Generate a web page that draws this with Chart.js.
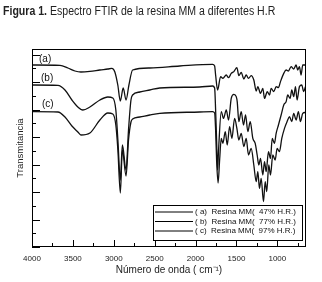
<!DOCTYPE html>
<html>
<head>
<meta charset="utf-8">
<script src="https://cdn.jsdelivr.net/npm/chart.js@4.4.1/dist/chart.umd.min.js"></script>
<style>
  body { margin: 0; background: #fff; }
  #wrap { position: relative; width: 322px; height: 282px; }
  #title {
    position: absolute; left: 3px; top: 4px; white-space: nowrap;
    font: 12px 'Liberation Sans', Arial, sans-serif; color: #222;
    transform: scaleX(0.88); transform-origin: left top;
  }
</style>
</head>
<body>
<div id="wrap">
  <div id="title"><b>Figura 1.</b> Espectro FTIR de la resina MM a diferentes H.R</div>
  <canvas id="ftir"></canvas>
</div>
<script>
// [wavenumber cm-1, transmittance a.u.]
const specA = [[4000,91],[3658,90.8],[3561,89.5],[3475,88],[3402,87.5],[3292,87.8],[3170,88.5],[3073,89],[3024,89.3],[2987,87.5],[2951,81],[2920,73],[2885,79.5],[2850,73.5],[2815,81],[2770,88.5],[2560,89.5],[2194,90.5],[1792,91.3],[1767,90.5],[1755,86],[1731,78.5],[1694,85.2],[1666,84.3],[1625,86],[1597,84.7],[1564,86.8],[1532,87.7],[1495,89.7],[1471,85.7],[1442,87.3],[1410,84],[1381,86],[1353,84.3],[1320,85.7],[1288,83.5],[1259,78],[1239,80.2],[1206,76.8],[1178,79.3],[1157,74.3],[1124,77.7],[1096,76],[1076,79.3],[1044,77.7],[1015,80.2],[987,79.7],[962,82.7],[922,86.8],[893,88.5],[865,88],[832,90.2],[800,89],[771,91],[751,88.5],[730,90.2],[710,86],[690,91],[657,91]];
const specB = [[4000,81],[3683,80.8],[3597,78.5],[3512,73.5],[3439,70],[3378,68.5],[3292,70],[3170,73.5],[3073,75],[3012,74.5],[2975,68.5],[2950,53.5],[2920,33.5],[2895,51],[2850,38.5],[2820,58.5],[2790,73.5],[2770,76],[2682,77.5],[2560,78.5],[2438,79.5],[1950,80],[1792,80.5],[1767,79.5],[1755,68.5],[1743,53.5],[1731,38.5],[1719,48.5],[1686,67.7],[1658,64.3],[1625,68.5],[1597,63.5],[1564,74.3],[1532,76.3],[1503,75.2],[1491,72.7],[1471,62.7],[1442,67.7],[1414,61],[1389,66],[1361,57.7],[1332,62.7],[1300,54.3],[1271,51.8],[1247,46],[1227,41],[1206,44.3],[1178,36],[1157,42.7],[1137,37.7],[1109,47.7],[1084,44.3],[1063,54.3],[1036,51.8],[1015,56.8],[987,61],[954,66],[922,71],[893,72.7],[873,76],[844,74.3],[824,78.5],[800,75.2],[779,80.2],[759,73.5],[730,80.2],[702,81],[678,77.7],[657,80.2]];
const specC = [[4000,67.7],[3683,67.5],[3597,65],[3512,60.5],[3439,57.5],[3402,56],[3292,57],[3170,63.5],[3073,67],[3012,66.5],[2975,61],[2950,48.5],[2920,27],[2895,48.5],[2850,35.5],[2820,53.5],[2790,62.5],[2770,64],[2682,65],[2560,66],[2438,66.8],[1950,67.5],[1792,67.7],[1767,67],[1755,58.5],[1743,43.5],[1725,32],[1706,43.5],[1686,54.3],[1666,51.8],[1637,57.7],[1613,51],[1584,60.2],[1556,54.3],[1523,64.3],[1495,59.3],[1471,53.5],[1442,56.8],[1410,50.2],[1381,54.3],[1353,46],[1320,49.3],[1288,41],[1259,32.7],[1239,37.7],[1219,29.3],[1198,34.3],[1170,22.7],[1149,32.7],[1130,27.7],[1105,41],[1084,36],[1056,46],[1027,43.5],[1003,49.3],[975,47.7],[946,54.3],[913,59.3],[881,62.7],[852,65.2],[824,62.7],[800,66.8],[771,63.5],[743,67.7],[718,62.7],[690,66.8],[657,67.3]];

const names = ["( a)  Resina MM(  47% H.R.)", "( b)  Resina MM(  77% H.R.)", "( c)  Resina MM(  97% H.R.)"];
const tags = ["(a)", "(b)", "(c)"];
const xTickLabels = [4000, 3500, 3000, 2500, 2000, 1500, 1000];
const xMin = 650, xMax = 4000;
const yMin = 0, yMax = 99, yStep = 6.875; // minor y tick spacing

const FONT = "'Liberation Sans', Arial, sans-serif";

// frame, inward ticks, curve tags and the boxed legend
const decor = {
  id: "decor",
  afterDraw(chart) {
    const { ctx, chartArea: a, scales: { x, y } } = chart;
    ctx.save();
    ctx.strokeStyle = "#000";
    ctx.lineWidth = 1;
    ctx.strokeRect(a.left + 0.5, a.top + 0.5, a.right - a.left - 1, a.bottom - a.top - 1);

    ctx.beginPath();
    for (let w = xMax; w > xMin; w -= 250) {
      const px = Math.round(x.getPixelForValue(w)) + 0.5;
      const len = w % 500 ? 4 : 7;
      ctx.moveTo(px, a.bottom);
      ctx.lineTo(px, a.bottom - len);
    }
    let i = 0;
    for (let v = yMin; v < yMax; v += yStep, i++) {
      const py = Math.round(y.getPixelForValue(v)) + 0.5;
      const len = i % 2 ? 4 : 8;
      ctx.moveTo(a.left, py);
      ctx.lineTo(a.left + len, py);
    }
    ctx.stroke();

    // (a) (b) (c) next to the curves
    ctx.fillStyle = "#111";
    ctx.font = "10px " + FONT;
    ctx.textBaseline = "middle";
    const tagPos = [[7, 10], [9, 29], [10, 55]];
    tags.forEach((t, k) => ctx.fillText(t, a.left + tagPos[k][0], a.top + tagPos[k][1]));

    // legend box
    const lx = a.left + 121, ly = a.top + 156, lw = 149, lh = 35;
    ctx.fillStyle = "#fff";
    ctx.fillRect(lx, ly, lw, lh);
    ctx.strokeRect(lx + 0.5, ly + 0.5, lw, lh);
    ctx.font = "8px " + FONT;
    ctx.fillStyle = "#111";
    names.forEach((n, k) => {
      const ry = ly + 7 + k * 9.5;
      ctx.beginPath();
      ctx.moveTo(lx + 2, ry);
      ctx.lineTo(lx + 40, ry);
      ctx.stroke();
      ctx.fillText(n, lx + 42, ry);
    });
    ctx.restore();
  }
};

const toPts = s => s.map(p => ({ x: p[0], y: p[1] }));

new Chart(document.getElementById("ftir"), {
  type: "line",
  data: {
    datasets: [specA, specB, specC].map((s, k) => ({
      label: names[k],
      data: toPts(s),
      borderColor: "#111",
      borderWidth: 1.3,
      pointRadius: 0,
      cubicInterpolationMode: "monotone",
      fill: false
    }))
  },
  options: {
    responsive: true,
    maintainAspectRatio: false,
    animation: false,
    layout: { padding: { left: 0, top: 49, right: 16, bottom: 0 } },
    plugins: { legend: { display: false }, tooltip: { enabled: false } },
    scales: {
      x: {
        type: "linear",
        reverse: true,
        min: xMin,
        max: xMax,
        grid: { display: false, drawTicks: false, tickLength: 0 },
        border: { display: false },
        afterBuildTicks: s => { s.ticks = xTickLabels.map(v => ({ value: v })); },
        ticks: {
          autoSkip: false,
          maxRotation: 0,
          padding: 7,
          color: "#222",
          font: { family: FONT, size: 8 },
          callback: v => String(v)
        },
        title: {
          display: true,
          text: "Número de onda ( cm⁻¹)",
          color: "#222",
          font: { family: FONT, size: 10 },
          padding: { top: 0, bottom: 6 }
        },
        afterFit: s => { s.height = 35; }
      },
      y: {
        min: yMin,
        max: yMax,
        grid: { display: false },
        border: { display: false },
        ticks: { display: false },
        title: {
          display: true,
          text: "Transmitancia",
          color: "#222",
          font: { family: FONT, size: 9.5 },
          padding: { top: 15, bottom: 0 }
        },
        afterFit: s => { s.width = 32; }
      }
    }
  },
  plugins: [decor]
});
</script>
</body>
</html>
